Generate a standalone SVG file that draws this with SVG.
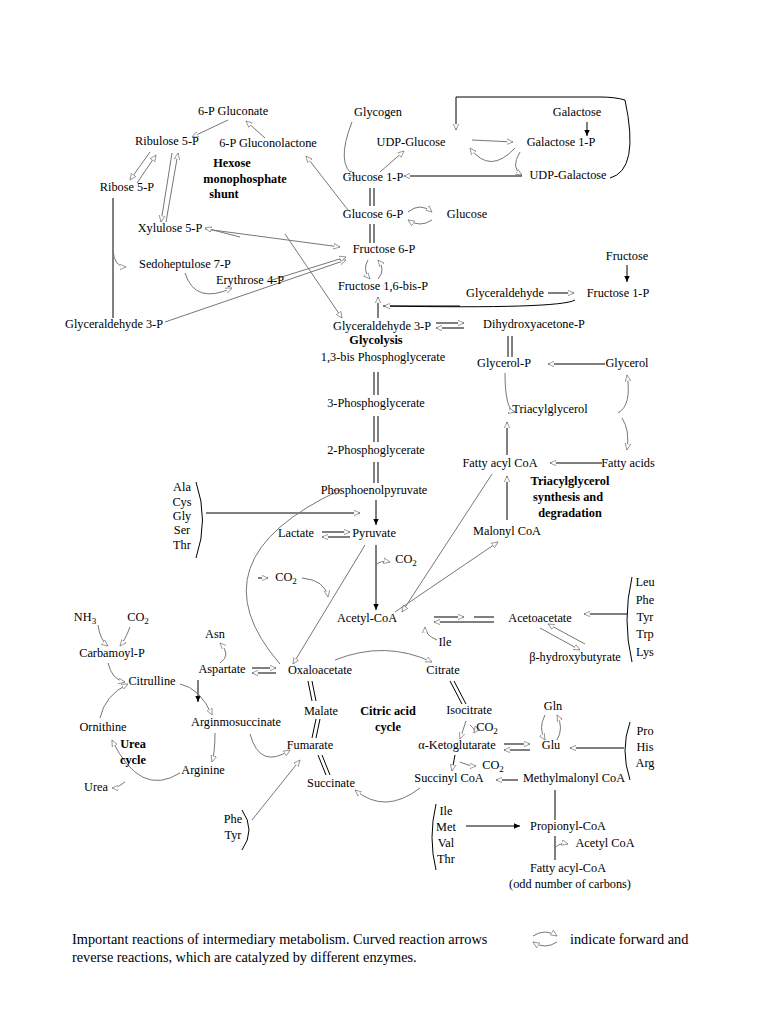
<svg xmlns="http://www.w3.org/2000/svg" width="768" height="1024" viewBox="0 0 768 1024">
<defs>
<marker id="o" viewBox="0 0 10 10" refX="9" refY="5" markerWidth="7" markerHeight="7" orient="auto-start-reverse"><path d="M0,1 L9,5 L0,9 Z" fill="#fff" stroke="#777" stroke-width="1"/></marker>
<marker id="b" viewBox="0 0 10 10" refX="9" refY="5" markerWidth="7" markerHeight="7" orient="auto-start-reverse"><path d="M0,1 L9,5 L0,9 Z" fill="#000"/></marker>
<style>
text{font-family:"Liberation Serif",serif;font-size:12.3px;fill:#000;text-anchor:middle}
.bd{font-weight:bold}
.l{text-anchor:start;font-size:14.3px}
#c path,#c line{fill:none;stroke:#777;stroke-width:1}
#c .k{stroke:#000}
#c .oa{marker-end:url(#o)}
#c .ba{marker-end:url(#b)}
</style>
</defs>
<rect width="768" height="1024" fill="#fff"/>
<g id="c">
<line class="oa" x1="228" y1="120" x2="192" y2="137"/>
<line class="oa" x1="265" y1="138" x2="246" y2="121"/>
<line class="oa" x1="150" y1="152" x2="130" y2="180"/>
<line class="oa" x1="137" y1="183" x2="156" y2="155"/>
<line class="oa" x1="172" y1="153" x2="161" y2="222"/>
<line class="oa" x1="166" y1="222" x2="178" y2="153"/>
<line class="k" x1="113" y1="198" x2="113" y2="318"/>
<path class="oa" d="M205,229 L340,247"/>
<path class="oa" d="M240,237 L205,228"/>
<path class="oa" d="M113,250 Q114,267 126,267"/>
<path class="oa" d="M185,273 Q195,305 232,288"/>
<line class="oa" x1="165" y1="322" x2="346" y2="260"/>
<line class="oa" x1="272" y1="280" x2="346" y2="257"/>
<line class="oa" x1="348" y1="210" x2="306" y2="156"/>
<line class="oa" x1="285" y1="234" x2="342" y2="318"/>
<path class="oa" d="M352,122 Q335,165 355,176"/>
<line class="oa" x1="380" y1="172" x2="404" y2="151"/>
<path class="oa" d="M472,140 L513,142"/>
<path class="oa" d="M515,148 Q490,175 470,148"/>
<line class="k ba" x1="587" y1="122" x2="587" y2="136"/>
<path class="oa" d="M520,152 Q510,168 522,175"/>
<line class="k oa" x1="522" y1="176" x2="404" y2="176"/>
<path class="k oa" d="M610,178 Q640,170 625,100 Q615,97 600,97 L456,97 L456,130"/>
<line class="k" x1="370" y1="188" x2="370" y2="206"/><line class="k" x1="374" y1="188" x2="374" y2="206"/>
<path class="oa" d="M408,212 Q420,202 432,212"/><path class="oa" d="M432,220 Q420,228 408,220"/>
<line class="k" x1="370" y1="224" x2="370" y2="243"/><line class="k" x1="374" y1="224" x2="374" y2="243"/>
<path class="oa" d="M368,260 Q362,270 370,279"/><path class="oa" d="M378,279 Q386,270 378,260"/>
<line class="k oa" x1="378" y1="318" x2="378" y2="297"/>
<line class="k" x1="383" y1="306" x2="460" y2="306"/>
<line class="k oa" x1="548" y1="293" x2="574" y2="293"/>
<line class="k ba" x1="627" y1="265" x2="627" y2="282"/>
<path class="k oa" d="M575,300 Q560,309 384,306"/>
<line class="k oa" x1="436" y1="323" x2="464" y2="323"/>
<line class="k oa" x1="464" y1="328" x2="436" y2="328"/>
<line class="k" x1="508" y1="336" x2="508" y2="357"/><line class="k" x1="512" y1="336" x2="512" y2="357"/>
<line class="k oa" x1="605" y1="364" x2="548" y2="364"/>
<path class="oa" d="M505,373 Q505,410 515,412"/>
<path class="oa" d="M618,413 Q632,405 627,375"/>
<path class="oa" d="M622,418 Q630,430 627,450"/>
<line class="k oa" x1="507" y1="455" x2="507" y2="422"/>
<line class="k oa" x1="602" y1="463" x2="550" y2="463"/>
<line class="k oa" x1="507" y1="520" x2="507" y2="476"/>
<line class="k" x1="374" y1="372" x2="374" y2="395"/><line class="k" x1="378" y1="372" x2="378" y2="395"/>
<line class="k" x1="374" y1="416" x2="374" y2="442"/><line class="k" x1="378" y1="416" x2="378" y2="442"/>
<line class="k" x1="374" y1="462" x2="374" y2="483"/><line class="k" x1="378" y1="462" x2="378" y2="483"/>
<line class="k ba" x1="376" y1="500" x2="376" y2="525"/>
<path class="k" d="M196,482 Q209,520 196,558"/>
<line class="k oa" x1="206" y1="513" x2="360" y2="513"/>
<line class="k oa" x1="322" y1="532" x2="350" y2="532"/>
<line class="k oa" x1="350" y1="537" x2="322" y2="537"/>
<line class="k ba" x1="376" y1="545" x2="376" y2="610"/>
<path class="oa" d="M376,565 Q380,560 390,562"/>
<line class="oa" x1="365" y1="545" x2="293" y2="664"/>
<line class="oa" x1="395" y1="612" x2="498" y2="542"/>
<line class="oa" x1="492" y1="474" x2="402" y2="612"/>
<path class="oa" d="M280,664 Q190,560 340,490"/>
<line class="k oa" x1="258" y1="578" x2="268" y2="578"/>
<path class="oa" d="M302,578 Q325,580 328,597"/>
<line class="k oa" x1="434" y1="617" x2="464" y2="617"/>
<line class="k oa" x1="494" y1="622" x2="434" y2="622"/>
<line class="k" x1="474" y1="617" x2="494" y2="617"/>
<path class="k" d="M632,577 Q622,620 632,662"/>
<line class="k oa" x1="627" y1="614" x2="584" y2="614"/>
<line class="oa" x1="540" y1="628" x2="580" y2="650"/>
<line class="oa" x1="585" y1="644" x2="548" y2="624"/>
<path class="oa" d="M437,640 Q425,635 425,627"/>
<path class="oa" d="M335,660 Q385,640 432,662"/>
<line class="k" x1="450" y1="681" x2="462" y2="704"/><line class="k" x1="454" y1="681" x2="466" y2="704"/>
<line class="oa" x1="466" y1="721" x2="460" y2="739"/>
<path class="oa" d="M470,725 Q476,730 474,733"/>
<line class="k oa" x1="455" y1="755" x2="452" y2="771"/>
<path class="oa" d="M460,762 Q468,766 476,766"/>
<path class="oa" d="M420,788 Q385,815 355,790"/>
<line class="k" x1="318" y1="755" x2="326" y2="775"/><line class="k" x1="322" y1="755" x2="330" y2="775"/>
<line class="k" x1="312" y1="738" x2="316" y2="719"/><line class="k" x1="316" y1="738" x2="320" y2="719"/>
<line class="k" x1="312" y1="701" x2="308" y2="681"/><line class="k" x1="316" y1="701" x2="312" y2="681"/>
<line class="k oa" x1="252" y1="668" x2="276" y2="668"/>
<line class="k oa" x1="276" y1="673" x2="252" y2="673"/>
<path class="oa" d="M220,663 Q232,655 220,643"/>
<line class="k ba" x1="198" y1="680" x2="198" y2="702"/>
<path class="oa" d="M250,734 Q260,770 290,750"/>
<path class="oa" d="M98,625 Q100,640 108,646"/>
<path class="oa" d="M130,627 Q125,640 120,646"/>
<path class="oa" d="M108,663 Q112,680 125,682"/>
<path class="oa" d="M180,684 Q200,688 212,715"/>
<path class="oa" d="M215,733 Q215,752 212,762"/>
<path class="oa" d="M180,773 Q140,798 112,740"/>
<path class="oa" d="M100,718 Q105,695 128,684"/>
<path class="oa" d="M125,782 Q118,788 112,788"/>
<path class="k" d="M242,810 Q256,830 242,850"/>
<line class="oa" x1="252" y1="820" x2="300" y2="760"/>
<line class="k oa" x1="504" y1="744" x2="530" y2="744"/>
<line class="k oa" x1="530" y1="750" x2="504" y2="750"/>
<path class="oa" d="M545,715 Q538,728 545,740"/>
<path class="oa" d="M557,740 Q564,728 557,715"/>
<path class="k" d="M630,722 Q620,750 630,780"/>
<line class="k oa" x1="624" y1="748" x2="570" y2="748"/>
<line class="k oa" x1="518" y1="780" x2="496" y2="780"/>
<line class="k" x1="555" y1="790" x2="555" y2="820"/>
<path class="k" d="M436,804 Q428,838 436,870"/>
<line class="k ba" x1="466" y1="826" x2="520" y2="826"/>
<line class="k" x1="555" y1="836" x2="555" y2="860"/>
<path class="oa" d="M555,848 Q560,842 568,844"/>
<path class="oa" d="M533,936 Q545,928 557,936"/><path class="oa" d="M557,942 Q545,950 533,942"/>
</g>
<g id="n">
<text x="233" y="115">6-P Gluconate</text>
<text x="167" y="145">Ribulose 5-P</text>
<text x="268" y="147">6-P Gluconolactone</text>
<text class="bd" x="232" y="167">Hexose</text>
<text class="bd" x="245" y="183">monophosphate</text>
<text class="bd" x="224" y="198">shunt</text>
<text x="127" y="191">Ribose 5-P</text>
<text x="170" y="232">Xylulose 5-P</text>
<text x="185" y="268">Sedoheptulose 7-P</text>
<text x="250" y="284">Erythrose 4-P</text>
<text x="114" y="328">Glyceraldehyde 3-P</text>
<text x="378" y="116">Glycogen</text>
<text x="411" y="146">UDP-Glucose</text>
<text x="577" y="116">Galactose</text>
<text x="561" y="146">Galactose 1-P</text>
<text x="568" y="179">UDP-Galactose</text>
<text x="373" y="181">Glucose 1-P</text>
<text x="373" y="218">Glucose 6-P</text>
<text x="467" y="218">Glucose</text>
<text x="384" y="253">Fructose 6-P</text>
<text x="627" y="260">Fructose</text>
<text x="383" y="290">Fructose 1,6-bis-P</text>
<text x="505" y="297">Glyceraldehyde</text>
<text x="618" y="297">Fructose 1-P</text>
<text x="382" y="330">Glyceraldehyde 3-P</text>
<text x="534" y="328">Dihydroxyacetone-P</text>
<text class="bd" x="376" y="344">Glycolysis</text>
<text x="383" y="361">1,3-bis Phosphoglycerate</text>
<text x="504" y="367">Glycerol-P</text>
<text x="627" y="367">Glycerol</text>
<text x="376" y="407">3-Phosphoglycerate</text>
<text x="550" y="413">Triacylglycerol</text>
<text x="376" y="454">2-Phosphoglycerate</text>
<text x="500" y="467">Fatty acyl CoA</text>
<text x="628" y="467">Fatty acids</text>
<text class="bd" x="570" y="485">Triacylglycerol</text>
<text class="bd" x="568" y="501">synthesis and</text>
<text class="bd" x="570" y="517">degradation</text>
<text x="374" y="494">Phosphoenolpyruvate</text>
<text x="182" y="491">Ala</text><text x="182" y="506">Cys</text><text x="182" y="520">Gly</text><text x="182" y="534">Ser</text><text x="182" y="549">Thr</text>
<text x="296" y="537">Lactate</text>
<text x="374" y="537">Pyruvate</text>
<text x="507" y="535">Malonyl CoA</text>
<text x="406" y="563">CO<tspan font-size="9" dy="3">2</tspan></text>
<text x="286" y="581">CO<tspan font-size="9" dy="3">2</tspan></text>
<text x="645" y="586">Leu</text><text x="645" y="604">Phe</text><text x="645" y="621">Tyr</text><text x="645" y="638">Trp</text><text x="645" y="656">Lys</text>
<text x="85" y="621">NH<tspan font-size="9" dy="3">3</tspan></text>
<text x="138" y="621">CO<tspan font-size="9" dy="3">2</tspan></text>
<text x="215" y="638">Asn</text>
<text x="367" y="622">Acetyl-CoA</text>
<text x="540" y="622">Acetoacetate</text>
<text x="445" y="646">Ile</text>
<text x="112" y="657">Carbamoyl-P</text>
<text x="575" y="661">β-hydroxybutyrate</text>
<text x="222" y="673">Aspartate</text>
<text x="320" y="674">Oxaloacetate</text>
<text x="443" y="674">Citrate</text>
<text x="152" y="685">Citrulline</text>
<text x="553" y="710">Gln</text>
<text x="103" y="731">Ornithine</text>
<text x="236" y="726">Arginmosuccinate</text>
<text x="321" y="715">Malate</text>
<text class="bd" x="388" y="715">Citric acid</text>
<text class="bd" x="388" y="731">cycle</text>
<text x="469" y="714">Isocitrate</text>
<text x="487" y="731">CO<tspan font-size="9" dy="3">2</tspan></text>
<text class="bd" x="133" y="748">Urea</text>
<text class="bd" x="133" y="764">cycle</text>
<text x="310" y="749">Fumarate</text>
<text x="457" y="749">α-Ketoglutarate</text>
<text x="551" y="749">Glu</text>
<text x="645" y="735">Pro</text><text x="645" y="751">His</text><text x="645" y="767">Arg</text>
<text x="203" y="774">Arginine</text>
<text x="493" y="769">CO<tspan font-size="9" dy="3">2</tspan></text>
<text x="96" y="791">Urea</text>
<text x="331" y="787">Succinate</text>
<text x="449" y="782">Succinyl CoA</text>
<text x="574" y="782">Methylmalonyl CoA</text>
<text x="233" y="823">Phe</text><text x="233" y="839">Tyr</text>
<text x="446" y="815">Ile</text><text x="446" y="831">Met</text><text x="446" y="847">Val</text><text x="446" y="863">Thr</text>
<text x="568" y="830">Propionyl-CoA</text>
<text x="605" y="847">Acetyl CoA</text>
<text x="568" y="872">Fatty acyl-CoA</text>
<text x="570" y="888">(odd number of carbons)</text>
<text class="l" x="72" y="944">Important reactions of intermediary metabolism.  Curved reaction arrows</text>
<text class="l" x="570" y="944">indicate forward and</text>
<text class="l" x="72" y="962">reverse reactions, which are catalyzed by different enzymes.</text>
</g>
</svg>
